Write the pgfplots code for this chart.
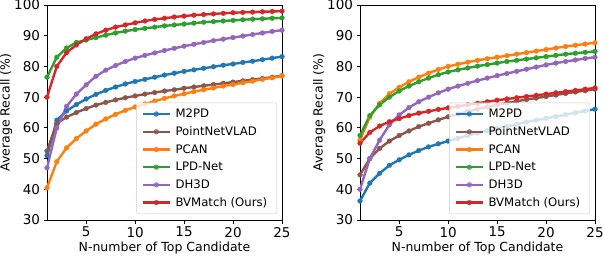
\documentclass[border=0pt]{standalone}
\usepackage{pgfplots}
\usepackage{pgfplotstable}
\pgfplotsset{compat=1.18}
\usepackage{fontspec}
\setmainfont{DejaVu Sans}
\definecolor{cblue}{HTML}{1F77B4}
\definecolor{corange}{HTML}{FF7F0E}
\definecolor{cgreen}{HTML}{2CA02C}
\definecolor{cred}{HTML}{D62728}
\definecolor{cpurple}{HTML}{9467BD}
\definecolor{cbrown}{HTML}{8C564B}

\pgfplotstableread{
x m2pd pnv pcan lpd dh3d bvm
1 51 52.5 40.5 76.5 47 70
2 62.5 61.5 49 83 60 80
3 65.5 63.5 53.5 86 67 84.5
4 67.6 65 56.5 87.8 71 87
5 69.4 66.3 59 88.6 74 89
6 70.9 67.4 61.2 89.4 76.8 90.6
7 72.2 68.3 62.9 90.2 78.8 91.8
8 73.3 69.1 64.4 90.9 80.3 92.8
9 74.3 69.8 65.7 91.5 81.6 93.5
10 75.1 70.4 66.8 92 82.7 94.2
11 75.8 71 67.8 92.4 83.6 94.8
12 76.5 71.5 68.7 92.8 84.4 95.3
13 77.2 72 69.6 93.2 85.2 95.7
14 77.8 72.4 70.4 93.5 85.9 96.1
15 78.4 72.9 71.1 93.8 86.6 96.4
16 78.9 73.3 71.8 94.1 87.2 96.7
17 79.4 73.7 72.4 94.4 87.8 96.9
18 79.9 74.1 73 94.6 88.4 97.1
19 80.4 74.5 73.6 94.8 88.9 97.3
20 80.8 74.9 74.1 95.0 89.4 97.5
21 81.3 75.3 74.7 95.2 89.9 97.6
22 81.7 75.7 75.2 95.4 90.4 97.7
23 82.2 76.1 75.8 95.5 90.9 97.8
24 82.7 76.5 76.3 95.7 91.4 97.9
25 83.2 77 76.9 95.8 91.8 98.0
}\oxford

\pgfplotstableread{
x m2pd pnv pcan lpd dh3d bvm
1 36.2 44.7 56 57.5 40 55
2 42 50 63.5 64 50 58.5
3 45.2 53.3 68 67.5 56 60.6
4 47.8 55.7 71.1 70 61 62
5 49.6 57.5 73.2 72 64.2 63
6 51.2 59 75 73.6 66.6 64
7 52.6 60.4 76.5 75 68.5 64.8
8 53.8 61.5 77.8 76.2 70 65.4
9 54.8 62.6 79 77.3 71.4 66
10 55.7 63.6 80 78.2 72.6 66.5
11 56.6 64.5 80.7 78.9 73.6 67
12 57.5 65.3 81.4 79.5 74.5 67.5
13 58.3 66.1 82 80.1 75.4 68
14 59.1 66.8 82.5 80.6 76.2 68.5
15 59.8 67.5 83 81.1 77 69
16 60.5 68.1 83.5 81.6 77.7 69.4
17 61.2 68.7 84 82 78.4 69.8
18 61.9 69.2 84.5 82.4 79.1 70.2
19 62.5 69.7 85 82.8 79.8 70.6
20 63.1 70.2 85.5 83.2 80.5 71
21 63.7 70.7 86 83.6 81.1 71.4
22 64.3 71.2 86.5 84 81.6 71.8
23 64.9 71.7 86.9 84.3 82.1 72.2
24 65.5 72.1 87.3 84.6 82.6 72.6
25 66.1 72.6 87.7 84.9 83 73
}\nclt

\pgfplotsset{
  myaxis/.style={
    scale only axis, width=235pt, height=215pt,
    xmin=1, xmax=25, ymin=30, ymax=100,
    xtick={5,10,15,20,25}, ytick={30,40,...,100},
    tick align=outside, tick pos=left, major tick length=3.5pt,
    tick style={black, line width=0.8pt},
    axis line style={line width=0.8pt},
    /pgf/number format/assume math mode=true,
    ticklabel style={font=\fontsize{13.5}{15}\selectfont},
    label style={font=\fontsize{12.5}{14}\selectfont},
    xlabel={N-number of Top Candidate},
    ylabel={Average Recall (\%)},
    xlabel style={yshift=2pt},
    ylabel style={yshift=-5pt},
    legend cell align=left,
    legend style={at={(1,0)}, anchor=south east, xshift=-5pt, yshift=6pt,
      draw=black!20, fill=white, fill opacity=0.8, text opacity=1, draw opacity=1,
      rounded corners=2pt, font=\fontsize{11.7}{13}\selectfont,
      row sep=3.5pt, inner xsep=5pt, inner ysep=4pt,
      nodes={inner xsep=4.5pt}},
    legend image code/.code={\draw[mark repeat=2,mark phase=2] plot coordinates {(0pt,0pt) (13.5pt,0pt) (27pt,0pt)};},
    every axis plot/.append style={line width=2.4pt, mark=*, mark size=2.4pt, mark options={line width=0.3pt}},
  }
}

\begin{document}
\begin{tikzpicture}
\useasboundingbox (-47pt,-56pt) rectangle (557pt,220pt);
\begin{axis}[myaxis]
\addplot[cblue] table[x=x,y=m2pd]{\oxford};
\addplot[cbrown] table[x=x,y=pnv]{\oxford};
\addplot[corange] table[x=x,y=pcan]{\oxford};
\addplot[cgreen] table[x=x,y=lpd]{\oxford};
\addplot[cpurple] table[x=x,y=dh3d]{\oxford};
\addplot[cred] table[x=x,y=bvm]{\oxford};
\legend{M2PD,PointNetVLAD,PCAN,LPD-Net,DH3D,BVMatch (Ours)}
\node[font=\fontsize{12.5}{14}\selectfont] at (axis description cs:0.5,0) [yshift=-47pt] {(a) Oxford Radar RobotCar};
\end{axis}
\begin{axis}[myaxis, xshift=313pt]
\addplot[cblue] table[x=x,y=m2pd]{\nclt};
\addplot[cbrown] table[x=x,y=pnv]{\nclt};
\addplot[corange] table[x=x,y=pcan]{\nclt};
\addplot[cgreen] table[x=x,y=lpd]{\nclt};
\addplot[cpurple] table[x=x,y=dh3d]{\nclt};
\addplot[cred] table[x=x,y=bvm]{\nclt};
\legend{M2PD,PointNetVLAD,PCAN,LPD-Net,DH3D,BVMatch (Ours)}
\node[font=\fontsize{12.5}{14}\selectfont] at (axis description cs:0.5,0) [yshift=-47pt] {(b) NCLT};
\end{axis}
\end{tikzpicture}
\end{document}
